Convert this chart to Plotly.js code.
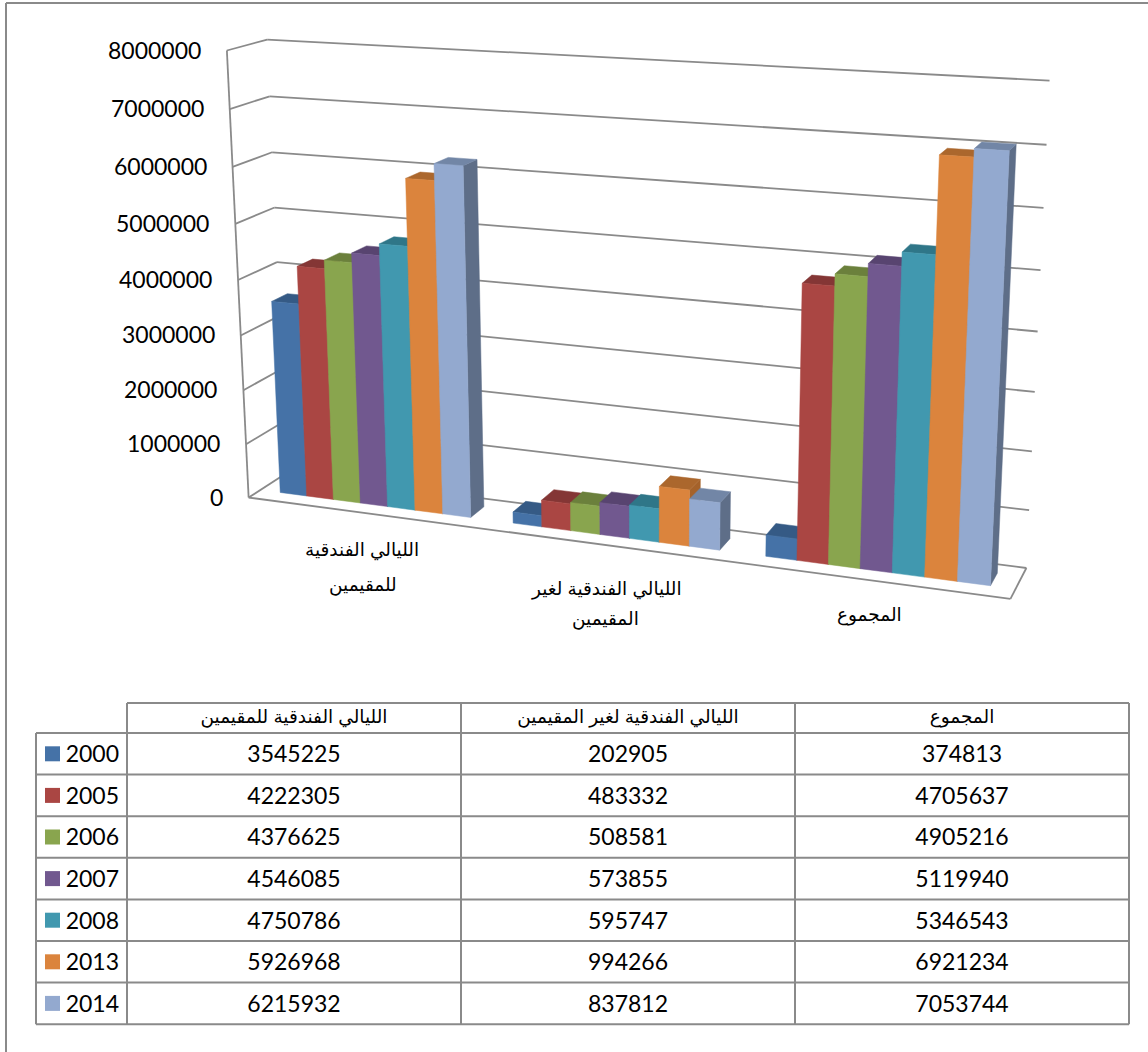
<!DOCTYPE html>
<html><head><meta charset="utf-8">
<script src="https://cdn.plot.ly/plotly-3.0.1.min.js"></script>
<style>html,body{margin:0;padding:0;background:#fff}#c{width:1148px;height:1052px}</style></head>
<body><div id="c"></div>
<script>
const categories = ["الليالي الفندقية للمقيمين", "الليالي الفندقية لغير المقيمين", "المجموع"];
const axisLabelLines = [["الليالي الفندقية","للمقيمين"], ["الليالي الفندقية لغير","المقيمين"], ["المجموع"]];
const years = ["2000","2005","2006","2007","2008","2013","2014"];
const residents = [3545225,4222305,4376625,4546085,4750786,5926968,6215932];
const nonResidents = [202905,483332,508581,573855,595747,994266,837812];
const totals = [374813,4705637,4905216,5119940,5346543,6921234,7053744];
const valueTicks = [0,1000000,2000000,3000000,4000000,5000000,6000000,7000000,8000000];
const frontColors = ["#4572A7","#AA4643","#89A54E","#71588F","#4198AF","#DB843D","#93A9CF"];
const topColors   = ["#355A85","#843635","#6B803C","#584470","#2F7688","#AB672D","#7286A6"];
const sideColors  = ["#355A85","#843635","#6B803C","#584470","#2F7688","#A5622A","#5E6E88"];
const gridColor = "#8A8A8A";
const yMax = 8000000;

// Perspective of the chart box, fitted to its corners: [u, v, depth, px, py]
const anchors = [
 [0,0,0,248,497],[1,0,0,1010,600],[0,0,1,287,474],[1,0,1,1027,567],
 [0,1,0,227,50],[0,1,1,267,40],[1,1,1,1050,81],
 [0,.5,0,239,280],[0,.5,1,276,262],[1,.5,1,1037,331]
];
function fit(){
  const n=11, A=Array.from({length:n},()=>new Array(n+1).fill(0));
  const add=(row,b)=>{for(let i=0;i<n;i++){for(let j=0;j<n;j++)A[i][j]+=row[i]*row[j];A[i][n]+=row[i]*b;}};
  anchors.forEach(([u,v,d,x,y])=>{
    add([u,v,d,1,0,0,0,0,-x*u,-x*v,-x*d],x);
    add([0,0,0,0,u,v,d,1,-y*u,-y*v,-y*d],y);
  });
  for(let i=0;i<n;i++){
    let p=i;for(let r=i;r<n;r++)if(Math.abs(A[r][i])>Math.abs(A[p][i]))p=r;
    [A[i],A[p]]=[A[p],A[i]];
    for(let r=0;r<n;r++){if(r===i)continue;const f=A[r][i]/A[i][i];for(let c=i;c<=n;c++)A[r][c]-=f*A[i][c];}
  }
  return A.map((r,i)=>r[n]/r[i]);
}
const m=fit();
function proj(u,val,d){
  const v=val/yMax, w=m[8]*u+m[9]*v+m[10]*d+1;
  return [(m[0]*u+m[1]*v+m[2]*d+m[3])/w,(m[4]*u+m[5]*v+m[6]*d+m[7])/w];
}
function path(pts){
  const x=[],y=[];
  pts.forEach(p=>{const q=proj(p[0],p[1],p[2]);x.push(q[0]);y.push(q[1]);});
  const q=proj(pts[0][0],pts[0][1],pts[0][2]);x.push(q[0],null);y.push(q[1],null);
  return [x,y];
}
const traces=[];
// walls and floor
{
  const x=[],y=[];
  const seg=(a,b)=>{const p=proj(...a),q=proj(...b);x.push(p[0],q[0],null);y.push(p[1],q[1],null);};
  valueTicks.forEach(t=>{seg([0,t,1],[1,t,1]);seg([0,t,0],[0,t,1]);});
  seg([0,0,0],[0,yMax,0]);seg([0,0,0],[1,0,0]);seg([1,0,0],[1,0,1]);
  traces.push({type:'scatter',mode:'lines',x,y,line:{color:gridColor,width:1.8},hoverinfo:'skip',showlegend:false,name:'grid'});
}
// bars
const cols=[residents,nonResidents,totals];
const barW=1/8.5, d0=0.31, d1=0.72;
years.forEach((yr,s)=>{
  const fr=[[],[]],tp=[[],[]],sd=[[],[]];
  cols.forEach((col,c)=>{
    const u0=(c+(0.75+s)*barW)/3,u1=(c+(0.75+s+1)*barW)/3,h=col[s];
    const add=(t,pts)=>{const r=path(pts);t[0].push(...r[0]);t[1].push(...r[1]);};
    add(fr,[[u0,0,d0],[u1,0,d0],[u1,h,d0],[u0,h,d0]]);
    add(tp,[[u0,h,d0],[u1,h,d0],[u1,h,d1],[u0,h,d1]]);
    add(sd,[[u1,0,d0],[u1,0,d1],[u1,h,d1],[u1,h,d0]]);
  });
  [[sd,sideColors[s]],[tp,topColors[s]],[fr,frontColors[s]]].forEach(([t,col],i)=>{
    traces.push({type:'scatter',mode:'lines',x:t[0],y:t[1],fill:'toself',fillcolor:col,
      line:{color:col,width:0.5},name:yr,customdata:cols.map(a=>a[s]),hoverinfo:'skip',showlegend:false});
  });
});
// data table: ruling, legend keys, then the table's own text
const colWidths=[91,334,334,334];
const tableLeft=36, headerTop=703, bodyTop=733, rowH=41.6;
const colEdges=colWidths.reduce((a,w)=>a.concat(a[a.length-1]+w),[tableLeft]);
const tableRight=colEdges[colEdges.length-1], tableBottom=bodyTop+rowH*years.length;
{
  const x=[],y=[];
  const seg=(x0,y0,x1,y1)=>{x.push(x0,x1,null);y.push(y0,y1,null);};
  colEdges.forEach((e,i)=>seg(e,i===0?bodyTop:headerTop,e,tableBottom));
  seg(colEdges[1],headerTop,tableRight,headerTop);
  for(let i=0;i<=years.length;i++)seg(tableLeft,bodyTop+rowH*i,tableRight,bodyTop+rowH*i);
  traces.push({type:'scatter',mode:'lines',x,y,line:{color:gridColor,width:2},hoverinfo:'skip',showlegend:false,name:'table grid'});
}
traces.push({type:'scatter',mode:'markers',x:years.map(()=>52.5),y:years.map((_,i)=>bodyTop+rowH*(i+.5)),
  marker:{symbol:'square',size:15,color:frontColors,line:{width:0}},hoverinfo:'skip',showlegend:false,name:'keys'});
const arabicFont='"Liberation Sans","DejaVu Sans",sans-serif';
const numFont='Lato,"Open Sans",sans-serif';
const clear='rgba(0,0,0,0)';
const tableTextTop=701, tableHeaderH=36;
traces.push({type:'table',
  domain:{x:[tableLeft/1148,tableRight/1148],y:[1-1040/1052,1-tableTextTop/1052]},
  columnwidth:colWidths,
  header:{values:[""].concat(categories),align:'center',height:tableHeaderH,
    line:{color:clear,width:0},fill:{color:clear},
    font:{family:arabicFont,size:18.5,color:'#000'}},
  cells:{values:[years,residents.map(String),nonResidents.map(String),totals.map(String)],
    align:['right','center','center','center'],height:rowH,
    line:{color:clear,width:0},fill:{color:clear},
    font:{family:numFont,size:23,color:'#000'}}
});
const anns=[];
valueTicks.forEach(t=>{
  const p=proj(0,t,0);
  anns.push({x:p[0]-24,y:p[1]-1,xref:'x',yref:'y',text:String(t),showarrow:false,xanchor:'right',yanchor:'middle',font:{family:numFont,size:23,color:'#000'}});
});
[[[362,550],[363,585]],[[606,589],[605,619]],[[869,615]]].forEach((ps,i)=>{
  ps.forEach((p,j)=>anns.push({x:p[0],y:p[1],xref:'x',yref:'y',text:axisLabelLines[i][j],showarrow:false,xanchor:'center',yanchor:'middle',font:{family:arabicFont,size:18.5,color:'#000'}}));
});
const hidden={visible:false,fixedrange:true};
Plotly.newPlot('c',traces,{
  width:1148,height:1052,margin:{l:0,r:0,t:0,b:0},paper_bgcolor:'#fff',plot_bgcolor:'#fff',showlegend:false,
  xaxis:Object.assign({range:[0,1148]},hidden),
  yaxis:Object.assign({range:[1052,0]},hidden),
  annotations:anns,
  shapes:[
   {type:'line',xref:'x',yref:'y',x0:6,x1:6,y0:3,y1:1052,line:{color:gridColor,width:2}},
   {type:'line',xref:'x',yref:'y',x0:6,x1:1148,y0:3,y1:3,line:{color:gridColor,width:2}}
  ]
},{displayModeBar:false});
</script></body></html>
